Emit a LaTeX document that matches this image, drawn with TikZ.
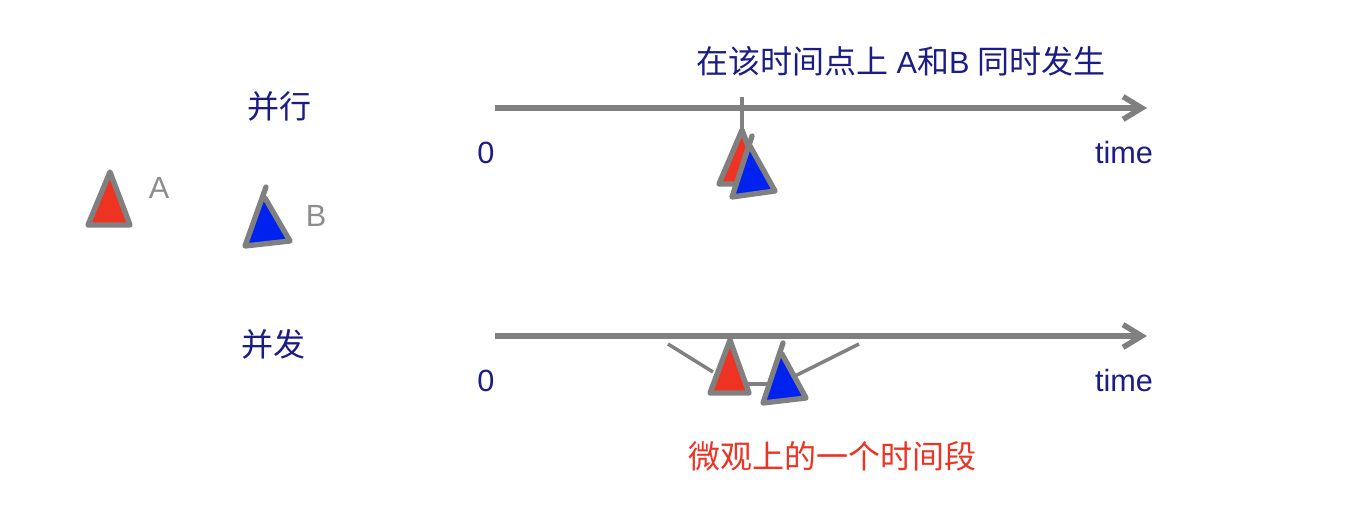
\documentclass[tikz,border=0pt]{standalone}
\usepackage{fontspec}
\setmainfont{Liberation Sans}
\newfontfamily\cjk{Noto Sans CJK SC}
\usetikzlibrary{arrows.meta}
\definecolor{navytext}{HTML}{1C1C86}
\definecolor{axisgray}{HTML}{808080}
\definecolor{tred}{HTML}{EE3322}
\definecolor{tblue}{HTML}{0022EE}
\tikzset{
  lab/.style={inner sep=0pt,font=\fontsize{23pt}{23pt}\selectfont,text=navytext},
  graylab/.style={lab,text=axisgray!90},
  redlab/.style={lab,text=tred},
  axisline/.style={draw=axisgray,line width=4.1pt,-{Straight Barb[length=14pt,width=17pt,line width=4.1pt]}},
  thin connector/.style={draw=axisgray,line width=2.6pt},
  tick/.style={draw=axisgray,line width=3.6pt},
  redtri/.style={draw=axisgray,fill=tred,line width=4pt,line join=round},
  bluetri/.style={draw=axisgray,fill=tblue,line width=4pt,line join=round,line cap=round}
}
\begin{document}
\begin{tikzpicture}[x=0.75pt,y=-0.75pt]
\useasboundingbox (0,0) rectangle (1352,510);
\fill[white] (0,0) rectangle (1352,510);
% labels
\newcommand{\cjkbig}[1]{{\cjk\fontsize{24pt}{24pt}\selectfont #1}}
\node[lab] (title) at (901,61) {\cjkbig{在该时间点上} A\cjkbig{和}B \cjkbig{同时发生}};
\node[lab] (par) at (279,106) {\cjkbig{并行}};
\node[lab] (con) at (273,344) {\cjkbig{并发}};
\node[graylab] (la) at (159,188) {A};
\node[graylab] (lb) at (316,216) {B};
\node[lab] (z1) at (486,153) {0};
\node[lab] (t1) at (1124,153) {time};
\node[lab] (z2) at (486,381) {0};
\node[lab] (t2) at (1124,381) {time};
\node[redlab] (seg) at (832,456) {\fontsize{24pt}{24pt}\selectfont\cjk 微观上的一个时间段};
% axes
\coordinate (a1s) at (495,108); \coordinate (a1e) at (1147,108);
\coordinate (a2s) at (495,336); \coordinate (a2e) at (1147,336);
\draw[axisline] (a1s) -- (a1e);
\draw[axisline] (a2s) -- (a2e);
% legend triangles
\coordinate (at) at (110,172); \coordinate (al) at (88,225); \coordinate (ar) at (130,225);
\draw[redtri] (at) -- (al) -- (ar) -- cycle;
\coordinate (bt) at (266,187); \coordinate (bl) at (245,246); \coordinate (br) at (290,241);
\draw[bluetri] (bt) -- (bl) -- (br) -- (265,198);
% parallel point
\coordinate (pa) at (742,97); \coordinate (pb) at (742,132);
\draw[tick] (pa) -- (pb);
\coordinate (pat) at (742,130); \coordinate (pal) at (719,184); \coordinate (par2) at (762,184);
\draw[redtri] (pat) -- (pal) -- (par2) -- cycle;
\coordinate (pbt) at (752,136); \coordinate (pbl) at (732,197); \coordinate (pbr) at (775,191);
\draw[bluetri] (pbt) -- (pbl) -- (pbr) -- (750,146);
% concurrent segment
\coordinate (c1) at (668,344); \coordinate (c2) at (713,372);
\coordinate (c3) at (747,384); \coordinate (c4) at (768,384);
\coordinate (c5) at (795,376); \coordinate (c6) at (859,344);
\draw[thin connector] (c1) -- (c2);
\draw[thin connector] (c3) -- (c4);
\draw[thin connector] (c5) -- (c6);
\coordinate (cat) at (730,340); \coordinate (cal) at (710,393); \coordinate (car) at (749,393);
\draw[redtri] (cat) -- (cal) -- (car) -- cycle;
\coordinate (cbt) at (783,343); \coordinate (cbl) at (763,403); \coordinate (cbr) at (806,398);
\draw[bluetri] (cbt) -- (cbl) -- (cbr) -- (782,354);
\end{tikzpicture}
\end{document}
